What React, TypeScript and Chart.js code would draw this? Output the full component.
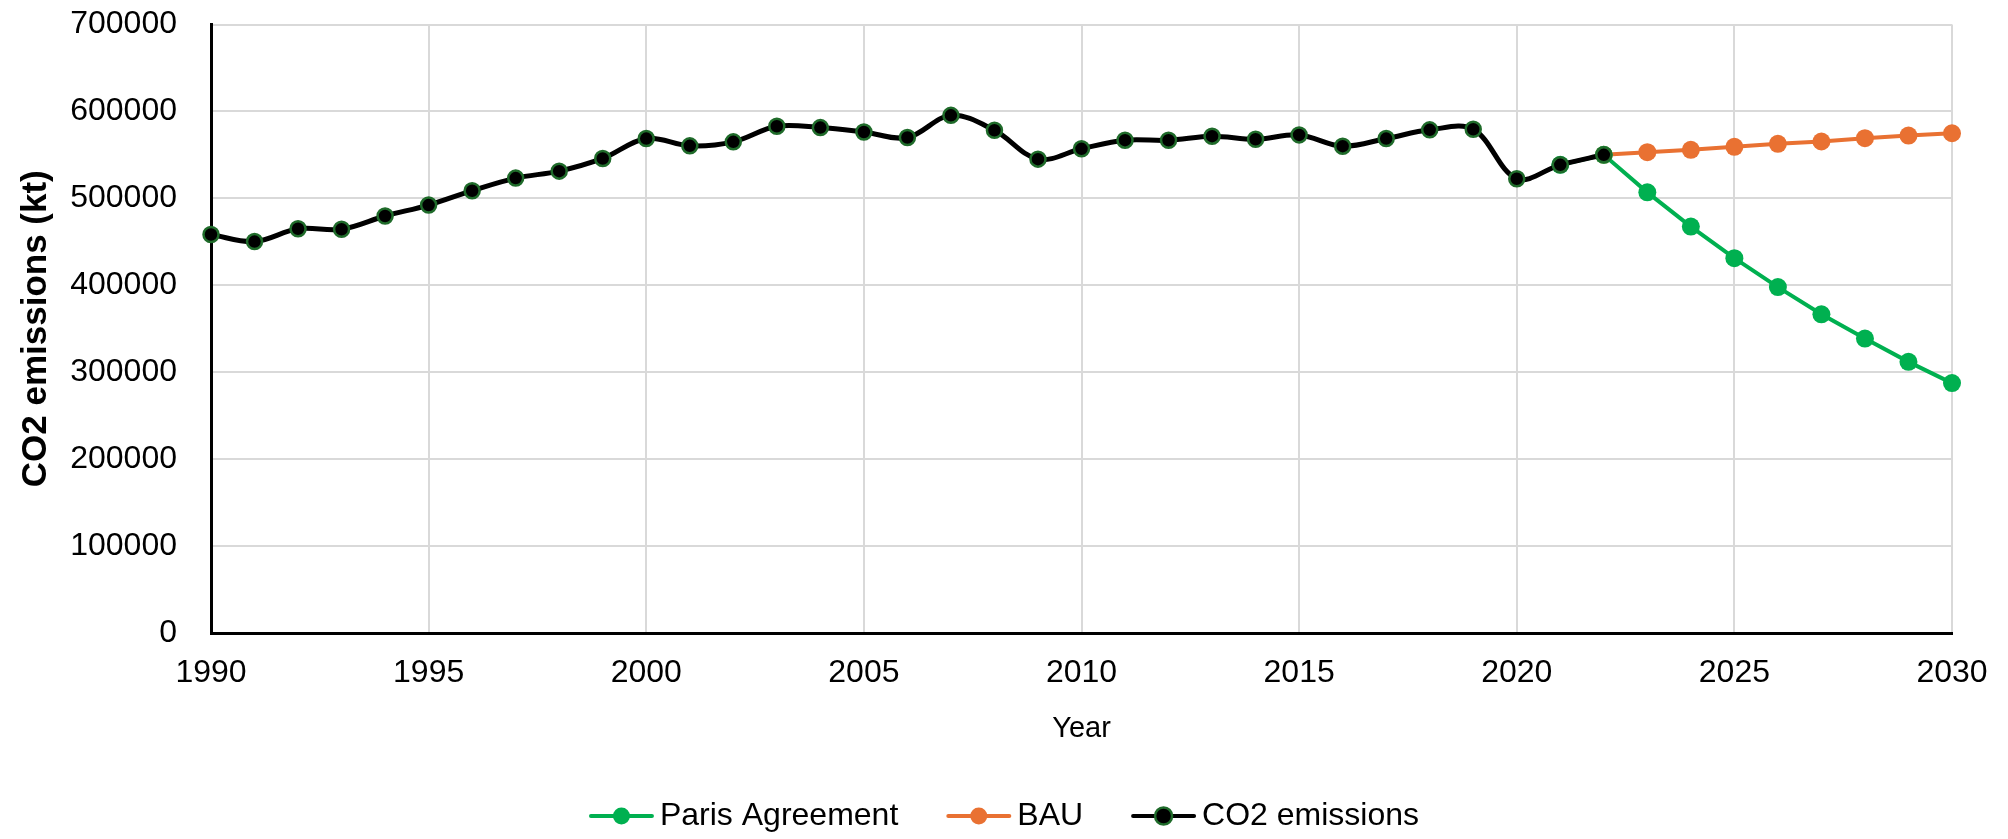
import React, { useEffect, useRef } from "react";
import { Chart, registerables } from "chart.js";

Chart.register(...registerables);

const FONT = '"Liberation Sans", Arial, sans-serif';

// ---- Data ----
const co2Years = [
  1990, 1991, 1992, 1993, 1994, 1995, 1996, 1997, 1998, 1999,
  2000, 2001, 2002, 2003, 2004, 2005, 2006, 2007, 2008, 2009,
  2010, 2011, 2012, 2013, 2014, 2015, 2016, 2017, 2018, 2019,
  2020, 2021, 2022,
];
const co2Values = [
  458400, 450300, 465000, 464500, 479700, 492300, 508800, 523300, 531300, 545900,
  568800, 560400, 565000, 582900, 581400, 576300, 570000, 595500, 578300, 545100,
  557000, 566900, 566800, 571500, 568000, 573000, 560000, 568800, 578800, 579500,
  522600, 538600, 550100,
];
const parisYears = [2021, 2022, 2023, 2024, 2025, 2026, 2027, 2028, 2029, 2030];
const parisValues = [538600, 550100, 506900, 467500, 431200, 397900, 366600, 338700, 311900, 287500];
const bauYears = [2022, 2023, 2024, 2025, 2026, 2027, 2028, 2029, 2030];
const bauValues = [550100, 553100, 555800, 559300, 562700, 565400, 569200, 572200, 574900];

const xMin = 1990;
const xMax = 2030;
const xStep = 5;
const yMin = 0;
const yMax = 700000;
const yStep = 100000;

const seriesNames = ["Paris Agreement", "BAU", "CO2 emissions"];

const toPoints = (xs: number[], ys: number[]) => xs.map((x, i) => ({ x, y: ys[i] }));

const legendPlugin = {
  id: "excelLegend",
  afterDraw(chart: any) {
    const ctx = chart.ctx as CanvasRenderingContext2D;
    const ds = chart.data.datasets as any[];
    ctx.save();
    ctx.font = `32px ${FONT}`;
    const lineW = 65;
    const gapText = 6;
    const gapItem = 48;
    const widths = ds.map((d) => lineW + gapText + ctx.measureText(d.label).width);
    const total = widths.reduce((a, b) => a + b, 0) + gapItem * (ds.length - 1);
    let x = (chart.width - total) / 2;
    const y = 816;
    ds.forEach((d, i) => {
      ctx.strokeStyle = d.borderColor;
      ctx.lineWidth = 4;
      ctx.lineCap = "round";
      ctx.beginPath();
      ctx.moveTo(x + 2, y);
      ctx.lineTo(x + lineW - 2, y);
      ctx.stroke();
      ctx.beginPath();
      ctx.arc(x + lineW / 2, y, 8.5, 0, Math.PI * 2);
      ctx.fillStyle = d.pointBackgroundColor;
      ctx.fill();
      if (d.pointBorderWidth) {
        ctx.lineWidth = d.pointBorderWidth;
        ctx.strokeStyle = d.pointBorderColor;
        ctx.stroke();
      }
      ctx.fillStyle = "#000";
      ctx.textBaseline = "middle";
      ctx.textAlign = "left";
      ctx.fillText(d.label, x + lineW + gapText, y);
      x += widths[i] + gapItem;
    });
    ctx.restore();
  },
};

export default function App() {
  const ref = useRef<HTMLCanvasElement | null>(null);

  useEffect(() => {
    if (!ref.current) return;
    Chart.defaults.font.family = FONT;
    const chart = new Chart(ref.current, {
      type: "line",
      data: {
        datasets: [
          {
            label: seriesNames[0],
            data: toPoints(parisYears, parisValues),
            borderColor: "#00B050",
            backgroundColor: "#00B050",
            pointBackgroundColor: "#00B050",
            pointBorderColor: "#00B050",
            pointBorderWidth: 0,
            pointRadius: 9,
            borderWidth: 4,
            tension: 0,
            clip: false,
            order: 1,
          } as any,
          {
            label: seriesNames[1],
            data: toPoints(bauYears, bauValues),
            borderColor: "#E97132",
            backgroundColor: "#E97132",
            pointBackgroundColor: "#E97132",
            pointBorderColor: "#E97132",
            pointBorderWidth: 0,
            pointRadius: 9,
            borderWidth: 4,
            tension: 0,
            clip: false,
            order: 2,
          } as any,
          {
            label: seriesNames[2],
            data: toPoints(co2Years, co2Values),
            borderColor: "#000000",
            backgroundColor: "#000000",
            pointBackgroundColor: "#000000",
            pointBorderColor: "#1F6B2A",
            pointBorderWidth: 2.5,
            pointRadius: 7.5,
            borderWidth: 5,
            tension: 0.35,
            clip: false,
            order: 0,
          } as any,
        ],
      },
      options: {
        animation: false,
        responsive: false,
        maintainAspectRatio: false,
        devicePixelRatio: 1,
        layout: { padding: { left: 0, top: 24.5, right: 56, bottom: 92.6 } },
        plugins: {
          legend: { display: false },
          tooltip: { enabled: false },
        },
        scales: {
          x: {
            type: "linear",
            min: xMin,
            max: xMax,
            ticks: {
              stepSize: xStep,
              padding: 21,
              color: "#000",
              font: { family: FONT, size: 32 },
              callback: (v: any) => String(v),
              maxRotation: 0,
            },
            grid: { color: "#D9D9D9", lineWidth: 2, drawTicks: false },
            border: { color: "#000", width: 3 },
            title: {
              display: true,
              text: "Year",
              color: "#000",
              font: { family: FONT, size: 29 },
              padding: 0,
            },
            afterFit: (s: any) => {
              s.height = 113.4;
              s.paddingLeft = 0;
              s.paddingRight = 0;
            },
          },
          y: {
            min: yMin,
            max: yMax,
            ticks: {
              stepSize: yStep,
              padding: 34,
              color: "#000",
              font: { family: FONT, size: 32 },
              callback: (v: any) => String(v),
            },
            grid: { color: "#D9D9D9", lineWidth: 2, drawTicks: false },
            border: { color: "#000", width: 3 },
            title: {
              display: true,
              text: "CO2 emissions (kt)",
              color: "#000",
              font: { family: FONT, size: 35, weight: "bold" },
              padding: { top: 15, bottom: 0 },
            },
            afterFit: (s: any) => {
              s.width = 211;
              s.paddingTop = 0;
              s.paddingBottom = 0;
            },
          },
        },
      },
      plugins: [legendPlugin],
    });
    return () => chart.destroy();
  }, []);

  return (
    <div style={{ position: "fixed", left: 0, top: 0, width: 2008, height: 839, background: "#fff" }}>
      <canvas ref={ref} width={2008} height={839} style={{ display: "block" }} />
    </div>
  );
}
